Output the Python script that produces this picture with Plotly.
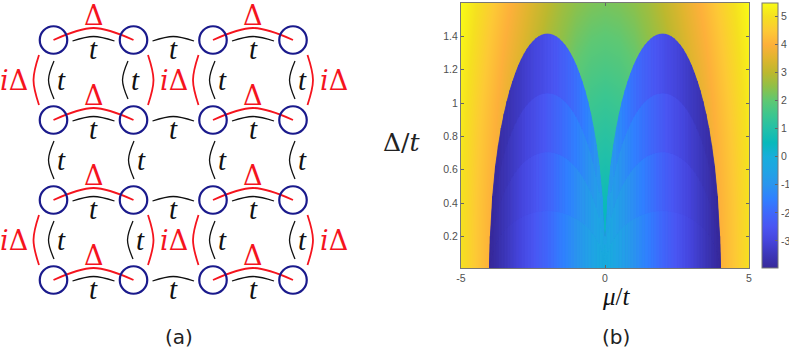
import plotly.graph_objects as go
from plotly.colors import sample_colorscale

# panel (b): field around the domes
mu_half = [0, 0.5, 1, 1.5, 2, 2.5, 3, 3.5, 4, 4.5, 5]
delta_rows = [0.01, 0.2, 0.4, 0.6, 0.8, 1.0, 1.2, 1.4, 1.6]
field_rows = [
    [0.01, 0.5, 1, 1.5, 2, 2.5, 3, 3.5, 4, 4.5, 5],
    [0.28, 0.57, 1.04, 1.53, 2.02, 2.52, 3.01, 3.51, 4.01, 4.51, 5.01],
    [0.57, 0.75, 1.15, 1.6, 2.08, 2.56, 3.05, 3.55, 4.04, 4.53, 5.03],
    [0.85, 0.98, 1.31, 1.72, 2.17, 2.64, 3.12, 3.6, 4.09, 4.58, 5.07],
    [1.13, 1.24, 1.51, 1.88, 2.3, 2.75, 3.21, 3.68, 4.16, 4.64, 5.13],
    [1.41, 1.5, 1.73, 2.06, 2.45, 2.87, 3.32, 3.77, 4.24, 4.72, 5.2],
    [1.7, 1.77, 1.97, 2.28, 2.65, 3.04, 3.46, 3.89, 4.35, 4.82, 5.28],
    [1.98, 2.04, 2.22, 2.51, 2.83, 3.22, 3.62, 4.04, 4.47, 4.93, 5.38],
    [2.26, 2.32, 2.47, 2.69, 3.03, 3.39, 3.78, 4.19, 4.62, 5.05, 5.49],
]

# dome outline for mu > 0
dome_mu = [0, 0.02, 0.1, 0.2, 0.3, 0.4, 0.5, 0.6, 0.7, 0.8, 0.9, 1.0, 1.1, 1.2, 1.3, 1.4, 1.5,
           1.6, 1.7, 1.8, 1.9, 2.0, 2.1, 2.2, 2.3, 2.4, 2.5, 2.6, 2.7, 2.8, 2.9, 3.0, 3.1, 3.2,
           3.3, 3.4, 3.5, 3.6, 3.7, 3.8, 3.9, 3.98, 4.0]
dome_top = [0.01, 0.2, 0.44, 0.62, 0.745, 0.85, 0.935, 1.01, 1.075, 1.13, 1.18, 1.225, 1.263,
            1.296, 1.325, 1.349, 1.369, 1.386, 1.398, 1.407, 1.412, 1.414, 1.412, 1.407, 1.398,
            1.386, 1.369, 1.349, 1.325, 1.296, 1.263, 1.225, 1.18, 1.13, 1.075, 1.01, 0.935,
            0.85, 0.745, 0.62, 0.44, 0.2, 0.01]

# values inside the dome, one list per quarter of its height, one number per strip
dome_z1 = [-0.03, -0.09, -0.18, -0.28, -0.38, -0.48, -0.58, -0.68, -0.77, -0.87, -0.97, -1.07,
           -1.17, -1.27, -1.37, -1.47, -1.57, -1.67, -1.77, -1.87, -1.97, -2.07, -2.16, -2.26,
           -2.36, -2.46, -2.56, -2.66, -2.76, -2.86, -2.96, -3.06, -3.16, -3.26, -3.36, -3.46,
           -3.56, -3.65, -3.75, -3.85, -3.94, -3.97]
dome_z2 = [-0.08, -0.19, -0.32, -0.44, -0.55, -0.65, -0.75, -0.85, -0.95, -1.05, -1.14, -1.24,
           -1.34, -1.43, -1.52, -1.62, -1.71, -1.81, -1.9, -2.0, -2.09, -2.18, -2.28, -2.37,
           -2.46, -2.56, -2.65, -2.74, -2.84, -2.93, -3.02, -3.12, -3.21, -3.3, -3.4, -3.49,
           -3.58, -3.67, -3.77, -3.86, -3.94, -3.97]
dome_z3 = [-0.13, -0.31, -0.5, -0.65, -0.79, -0.91, -1.02, -1.13, -1.23, -1.33, -1.43, -1.52,
           -1.61, -1.7, -1.79, -1.88, -1.97, -2.06, -2.14, -2.23, -2.32, -2.4, -2.48, -2.57,
           -2.65, -2.74, -2.82, -2.9, -2.98, -3.07, -3.15, -3.23, -3.31, -3.39, -3.47, -3.56,
           -3.64, -3.72, -3.8, -3.88, -3.95, -3.97]
dome_z4 = [-0.18, -0.43, -0.68, -0.88, -1.05, -1.19, -1.32, -1.45, -1.56, -1.67, -1.77, -1.86,
           -1.96, -2.05, -2.14, -2.22, -2.3, -2.39, -2.46, -2.54, -2.62, -2.69, -2.77, -2.84,
           -2.91, -2.98, -3.05, -3.12, -3.19, -3.26, -3.33, -3.39, -3.46, -3.53, -3.59, -3.65,
           -3.72, -3.78, -3.84, -3.91, -3.96, -3.97]

z_min, z_max = -3.97, 5.49
color_z = [-3.97, -3.5, -3, -2.5, -2, -1.5, -1, -0.5, 0, 0.5, 1, 1.5, 2, 2.5, 3, 3.5, 4, 4.5, 5, 5.49]
color_hex = ['#37299a', '#3c36b8', '#4545dc', '#4a55f2', '#3f68fb', '#3080ff', '#2a95ee', '#20a4e4',
             '#18aedb', '#08b9bb', '#22c0a8', '#3cc68f', '#5ec873', '#8fc048', '#bcb82e', '#dfb52e',
             '#fdb03a', '#fdc935', '#f5e020', '#f9fb15']
cscale = [[(z - z_min) / (z_max - z_min), c] for z, c in zip(color_z, color_hex)]

# panel (a): lattice
site_x = [53.5, 133.5, 213, 293]
site_y = [40, 120, 200, 280]

NAVY = '#1a1a8c'
RED = '#f5141e'
BLACK = '#111111'
SERIF = 'Liberation Serif'

fig = go.Figure()

mu_all = [-m for m in mu_half[:0:-1]] + mu_half
z_all = [row[:0:-1] + row for row in field_rows]
fig.add_trace(go.Heatmap(
    x=mu_all, y=delta_rows, z=z_all, zmin=z_min, zmax=z_max, zsmooth='best',
    colorscale=cscale, hoverinfo='skip',
    colorbar=dict(
        thicknessmode='pixels', thickness=15.5, lenmode='pixels', len=265,
        x=761.7 / 789, xanchor='left', xpad=0, y=81 / 349, yanchor='bottom', ypad=0,
        tickmode='array', tickvals=[-3, -2, -1, 0, 1, 2, 3, 4, 5],
        ticktext=['-3', '-2', '-1', '0', '1', '2', '3', '4', '5'],
        ticks='inside', ticklen=3, tickcolor='#666666', outlinecolor='#777777', outlinewidth=1,
        tickfont=dict(family='Liberation Sans', size=10.5, color='#505050'),
    ),
))

# plain blue dome first, so the seams between strips do not let the field through
for side in (-1, 1):
    fig.add_trace(go.Scatter(
        x=[side * m for m in dome_mu], y=dome_top, mode='lines', fill='toself',
        fillcolor='#4058f0', line=dict(width=0), hoverinfo='skip', showlegend=False,
    ))

# the domes are strips laid over the field so their edge stays sharp
levels = [0, 0.25, 0.5, 0.75, 1]
for k, strip_z in enumerate([dome_z1, dome_z2, dome_z3, dome_z4]):
    for i, z in enumerate(strip_z):
        col = sample_colorscale(cscale, [(z - z_min) / (z_max - z_min)])[0]
        for side in (-1, 1):
            m0, m1 = side * dome_mu[i], side * dome_mu[i + 1]
            h0, h1 = dome_top[i], dome_top[i + 1]
            fig.add_trace(go.Scatter(
                x=[m0, m1, m1, m0, m0],
                y=[levels[k] * h0, levels[k] * h1, levels[k + 1] * h1, levels[k + 1] * h0, levels[k] * h0],
                mode='lines', fill='toself', fillcolor=col, line=dict(color=col, width=0.8),
                hoverinfo='skip', showlegend=False,
            ))


def arc(x0, y0, xm, ym, x1, y1, color, width):
    fig.add_trace(go.Scatter(
        x=[x0, xm, x1], y=[y0, ym, y1], xaxis='x2', yaxis='y2', mode='lines',
        line=dict(color=color, width=width, shape='spline', smoothing=1),
        hoverinfo='skip', showlegend=False,
    ))


def label(x, y, text, color=BLACK, size=29, family=SERIF):
    fig.add_annotation(x=x, y=y, xref='x2', yref='y2', text=text, showarrow=False,
                       font=dict(family=family, size=size, color=color))


# horizontal bonds
for y in site_y:
    for a, b in [(0, 1), (1, 2), (2, 3)]:
        xa, xb = site_x[a], site_x[b]
        xm = (xa + xb) / 2
        arc(xa + 19, y + 1, xm, y - 3.5, xb - 19, y + 1, BLACK, 1.3)
        label(xm, y + 9, '<i>t</i>')
    for a, b in [(0, 1), (2, 3)]:
        xa, xb = site_x[a], site_x[b]
        xm = (xa + xb) / 2
        arc(xa, y, xm, y - 12, xb, y, RED, 1.8)
        label(xm, y - 25, 'Δ', RED, 27, 'DejaVu Serif')

# vertical bonds, the black ones are not quite evenly placed in the original
bond_shift = [[0, -6, 1.5, 1.5], [0, 0, 1.5, 1.5], [0, -1, 1.5, 1.5]]
for r in range(3):
    y0, y1 = site_y[r], site_y[r + 1]
    ym = (y0 + y1) / 2
    for c, x in enumerate(site_x):
        shift = bond_shift[r][c]
        arc(x + shift + 0.5, y0 + 21, x + shift - 5, ym, x + shift + 0.5, y1 - 21, BLACK, 1.3)
        label(x + shift + 7.5, ym, '<i>t</i>')
    if r != 1:
        for a, b in [(0, 1), (2, 3)]:
            arc(site_x[a] - 14.5, y0 + 15, site_x[a] - 20, ym, site_x[a] - 14.5, y1 - 15, RED, 1.8)
            arc(site_x[b] + 14.5, y0 + 15, site_x[b] + 20, ym, site_x[b] + 14.5, y1 - 15, RED, 1.8)
        for x in (13.5, 173.5, 333.5):
            label(x, ym, '<i>i</i>Δ', RED, 27, 'DejaVu Serif')

# sites
fig.add_trace(go.Scatter(
    x=[x for y in site_y for x in site_x], y=[y for y in site_y for x in site_x],
    xaxis='x2', yaxis='y2', mode='markers',
    marker=dict(symbol='circle-open', size=27.5, color=NAVY, line=dict(color=NAVY, width=2.2)),
    hoverinfo='skip', showlegend=False,
))

label(401, 142, 'Δ/<i>t</i>', '#222222', 25, 'DejaVu Serif')
label(616, 296, '<i>μ</i>/<i>t</i>', BLACK, 25)
label(179, 337, '(a)', '#222222', 20, 'DejaVu Sans')
label(616, 337, '(b)', '#222222', 20, 'DejaVu Sans')

frame = dict(showline=True, linecolor='#777777', linewidth=1, mirror='ticks', ticks='inside',
             ticklen=3, tickcolor='#666666', showgrid=False, zeroline=False,
             tickfont=dict(family='Liberation Sans', size=10.5, color='#505050'))

fig.update_layout(
    width=789, height=349, paper_bgcolor='white', plot_bgcolor='rgba(0,0,0,0)', showlegend=False,
    margin=dict(l=0, r=0, t=0, b=0, autoexpand=False),
    xaxis=dict(domain=[461 / 789, 749 / 789], range=[-5, 5], tickmode='array',
               tickvals=[-5, 0, 5], ticktext=['-5', '0', '5'], **frame),
    yaxis=dict(domain=[81 / 349, 346 / 349], range=[0.01, 1.6], tickmode='array',
               tickvals=[0.2, 0.4, 0.6, 0.8, 1, 1.2, 1.4, 1.6],
               ticktext=['0.2', '0.4', '0.6', '0.8', '1', '1.2', '1.4', '1.6'], **frame),
    xaxis2=dict(domain=[0, 1], range=[0, 789], visible=False, anchor='y2'),
    yaxis2=dict(domain=[0, 1], range=[349, 0], visible=False, anchor='x2'),
)

fig.write_html("out.html", config={'displayModeBar': False},
               post_script="document.body.style.margin='0';")
